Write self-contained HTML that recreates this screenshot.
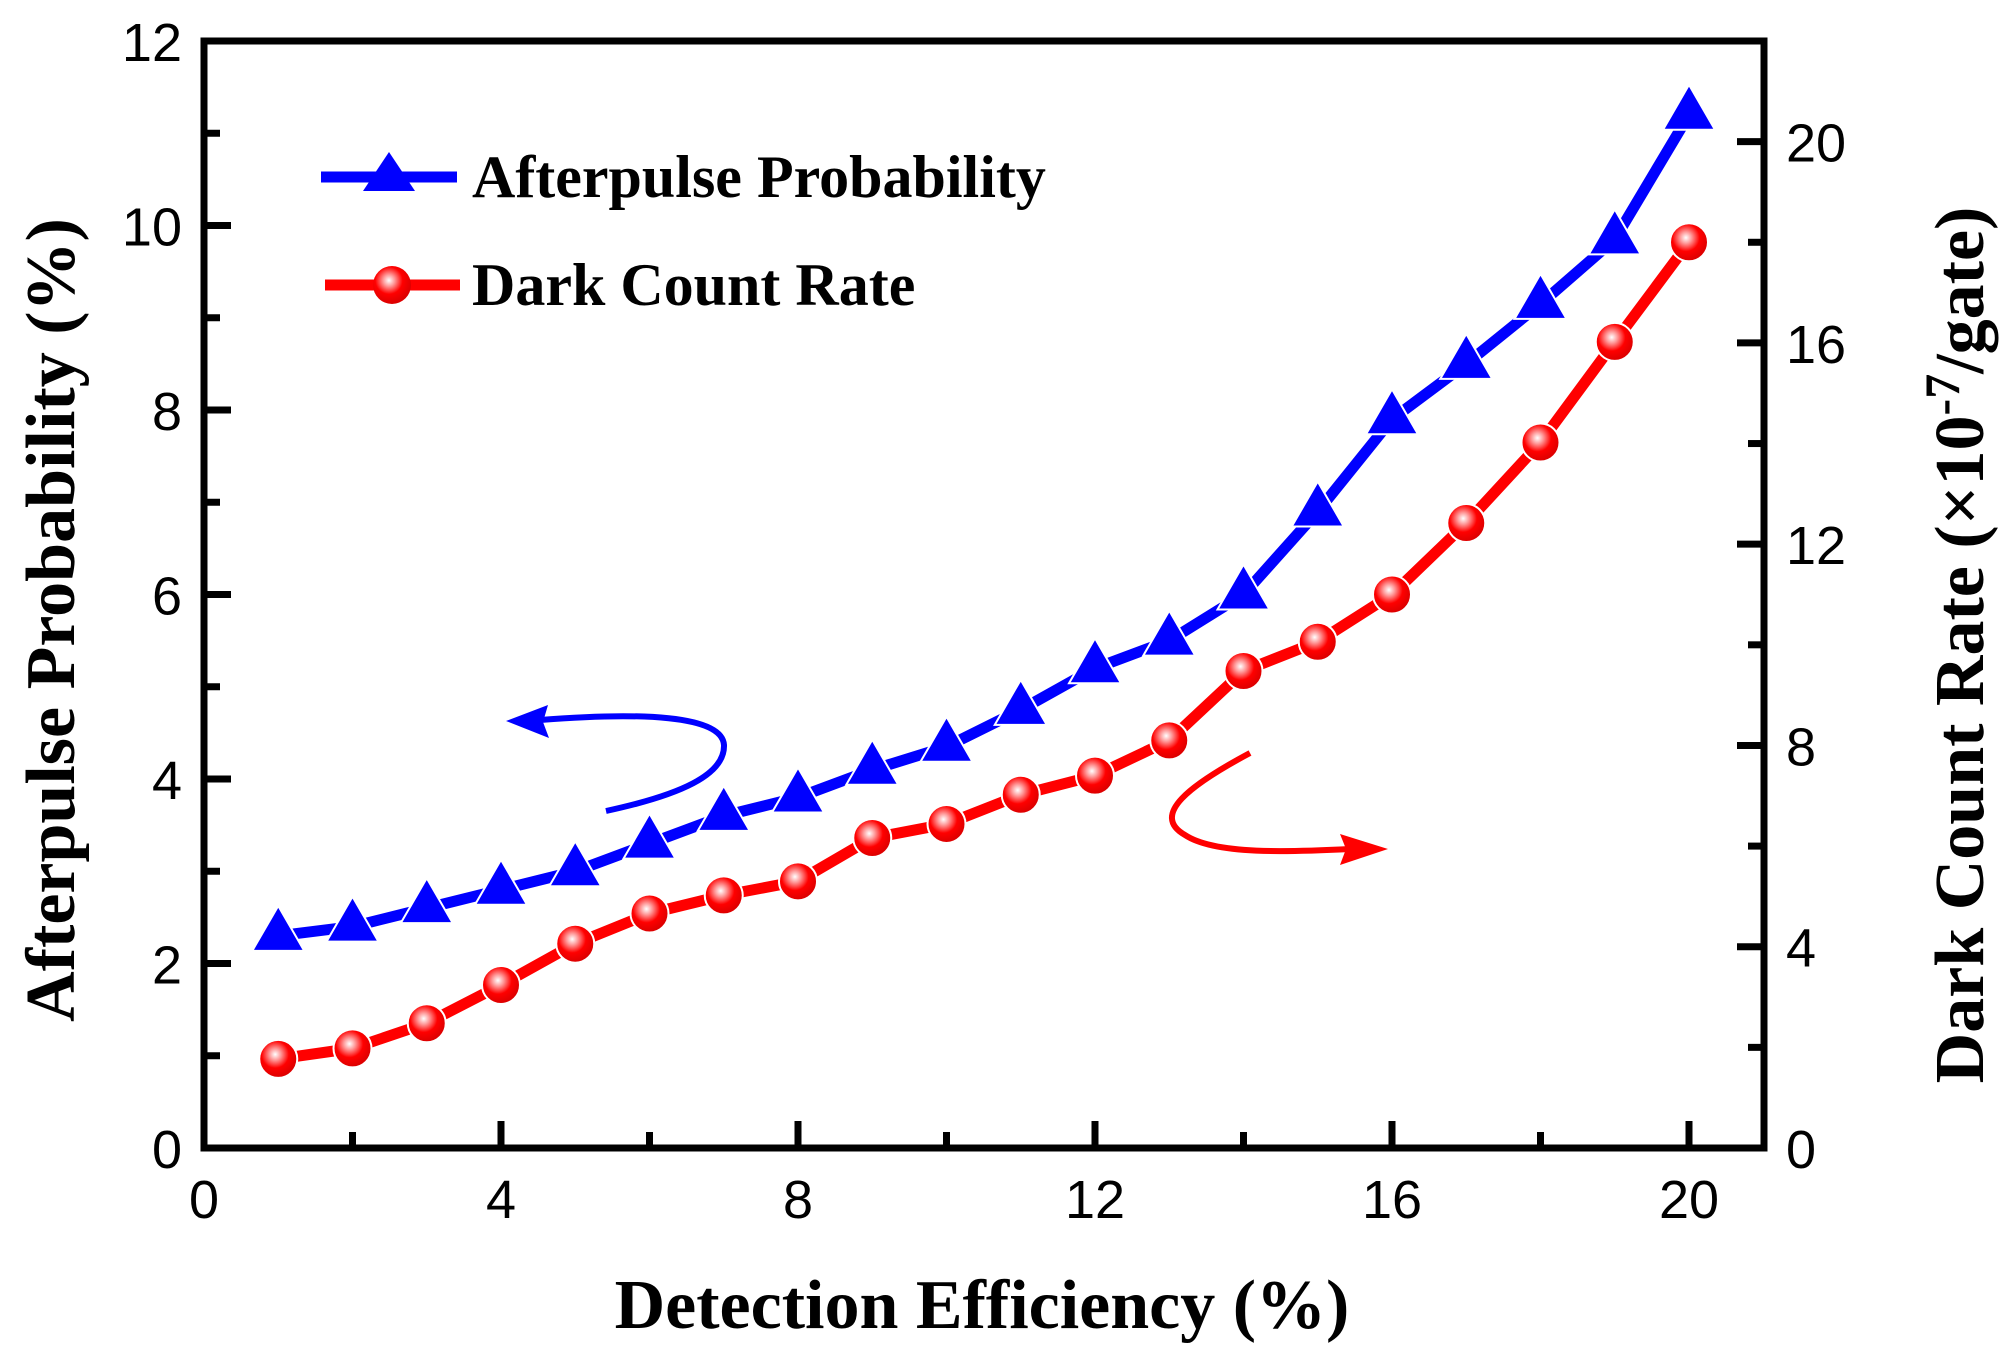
<!DOCTYPE html>
<html><head><meta charset="utf-8"><style>
html,body{margin:0;padding:0;background:#fff;}
svg{display:block;}
.tk{font-family:"Liberation Sans",sans-serif;font-size:54px;fill:#000;}
.tt{font-family:"Liberation Serif",serif;font-weight:bold;font-size:70px;fill:#000;}
.lg{font-family:"Liberation Serif",serif;font-weight:bold;font-size:60px;fill:#000;}
</style></head><body>
<svg id="chart" width="2000" height="1357" viewBox="0 0 2000 1357" xmlns="http://www.w3.org/2000/svg">
<defs>
<radialGradient id="ball" cx="0.42" cy="0.38" r="0.6">
<stop offset="0" stop-color="#fff"/><stop offset="0.25" stop-color="#ff9a9a"/><stop offset="0.6" stop-color="#f00"/><stop offset="1" stop-color="#d00"/>
</radialGradient>
</defs>
<g id="axes"></g>
<g id="series"></g>
<g>
<line x1="321" y1="177" x2="457" y2="177" stroke="#0000ff" stroke-width="11"/>
<polygon points="389,152 415,191 363,191" fill="#0000ff"/>
<text x="472" y="197" class="lg">Afterpulse Probability</text>
<line x1="325" y1="285" x2="460" y2="285" stroke="#ff0000" stroke-width="11"/>
<circle cx="392" cy="285" r="19" fill="url(#ball)"/>
<text x="472" y="305" class="lg">Dark Count Rate</text>
</g>
<g>
<path d="M606,811 C680,795 725,775 724,745 C722,715 640,712 540,720" fill="none" stroke="#0000ff" stroke-width="6"/>
<polygon points="506,721 548,705 543,722 549,738" fill="#0000ff"/>
</g>
<g>
<path d="M1250,753 C1190,785 1150,815 1185,835 C1215,855 1290,852 1350,849" fill="none" stroke="#ff0000" stroke-width="6"/>
<polygon points="1388,849 1340,834 1346,849 1340,865" fill="#ff0000"/>
</g>
<text class="tt" x="982" y="1328" text-anchor="middle">Detection Efficiency (%)</text>
<text class="tt" transform="translate(74,620) rotate(-90)" text-anchor="middle" font-size="72">Afterpulse Probability (%)</text>
<text class="tt" transform="translate(1983,645) rotate(-90)" text-anchor="middle">Dark Count Rate (×10<tspan dy="-24" font-size="50">-7</tspan><tspan dy="24">/gate)</tspan></text>
</svg>
<script>
const xValues=[1,2,3,4,5,6,7,8,9,10,11,12,13,14,15,16,17,18,19,20];
const afterpulse=[2.3,2.4,2.6,2.8,3.0,3.3,3.6,3.8,4.1,4.35,4.75,5.2,5.5,6.0,6.9,7.9,8.5,9.15,9.85,11.2];
const darkCount=[1.77,1.98,2.48,3.24,4.06,4.66,5.02,5.3,6.16,6.44,7.02,7.4,8.1,9.48,10.06,11.0,12.42,14.02,16.02,18.0];
const xTicks=[0,4,8,12,16,20];
const yLeftTicks=[0,2,4,6,8,10,12];
const yRightTicks=[0,4,8,12,16,20];
const L=204,R=1764,T=41,B=1148;
const X=v=>L+(v-0)*(1485/20);
const YL=v=>B-v*((B-T)/12);
const YR=v=>B-v*((B-T)/22);
const NS='http://www.w3.org/2000/svg';
function mk(tag,attrs,parent){const e=document.createElementNS(NS,tag);for(const k in attrs)e.setAttribute(k,attrs[k]);parent.appendChild(e);return e;}
const ax=document.getElementById('axes');
const frame=mk('rect',{x:L,y:T,width:R-L,height:B-T,fill:'none',stroke:'#000','stroke-width':7},ax);


for(let v=0;v<=21;v+=2){const major=v%4===0;const len=major?27:16;
 const t=mk('line',{x1:X(v),x2:X(v),y1:B,y2:B-len,stroke:'#000','stroke-width':7},ax);
 
 }
xTicks.forEach(v=>{const t=mk('text',{x:X(v),y:B+70,'text-anchor':'middle',class:'tk'},ax);t.textContent=v;
 
 });
for(let v=0;v<=12;v+=1){const major=v%2===0;const len=major?27:16;
 const t=mk('line',{x1:L,x2:L+len,y1:YL(v),y2:YL(v),stroke:'#000','stroke-width':7},ax);
 
 }
yLeftTicks.forEach(v=>{const t=mk('text',{x:L-22,y:YL(v)+20,'text-anchor':'end',class:'tk'},ax);t.textContent=v;
 
 });
for(let v=0;v<=22;v+=2){const major=v%4===0;const len=major?27:16;
 const t=mk('line',{x1:R,x2:R-len,y1:YR(v),y2:YR(v),stroke:'#000','stroke-width':7},ax);
 
 }
yRightTicks.forEach(v=>{const t=mk('text',{x:R+22,y:YR(v)+20,'text-anchor':'start',class:'tk'},ax);t.textContent=v;
 
 });
const sg=document.getElementById('series');
const bl=mk('polyline',{points:xValues.map((x,i)=>X(x)+','+YL(afterpulse[i])).join(' '),fill:'none',stroke:'#0000ff','stroke-width':11,'stroke-linejoin':'round'},sg);


const rl=mk('polyline',{points:xValues.map((x,i)=>X(x)+','+YR(darkCount[i])).join(' '),fill:'none',stroke:'#ff0000','stroke-width':11,'stroke-linejoin':'round'},sg);


xValues.forEach((x,i)=>{const cx=X(x),cy=YL(afterpulse[i]);
 const p=mk('polygon',{points:`${cx},${cy-30} ${cx+26},${cy+15} ${cx-26},${cy+15}`,fill:'#0000ff',stroke:'#fff','stroke-width':2},sg);
 
 });
xValues.forEach((x,i)=>{
 const c=mk('circle',{cx:X(x),cy:YR(darkCount[i]),r:19,fill:'url(#ball)',stroke:'#fff','stroke-width':2},sg);
 
 });
</script>
</body></html>
